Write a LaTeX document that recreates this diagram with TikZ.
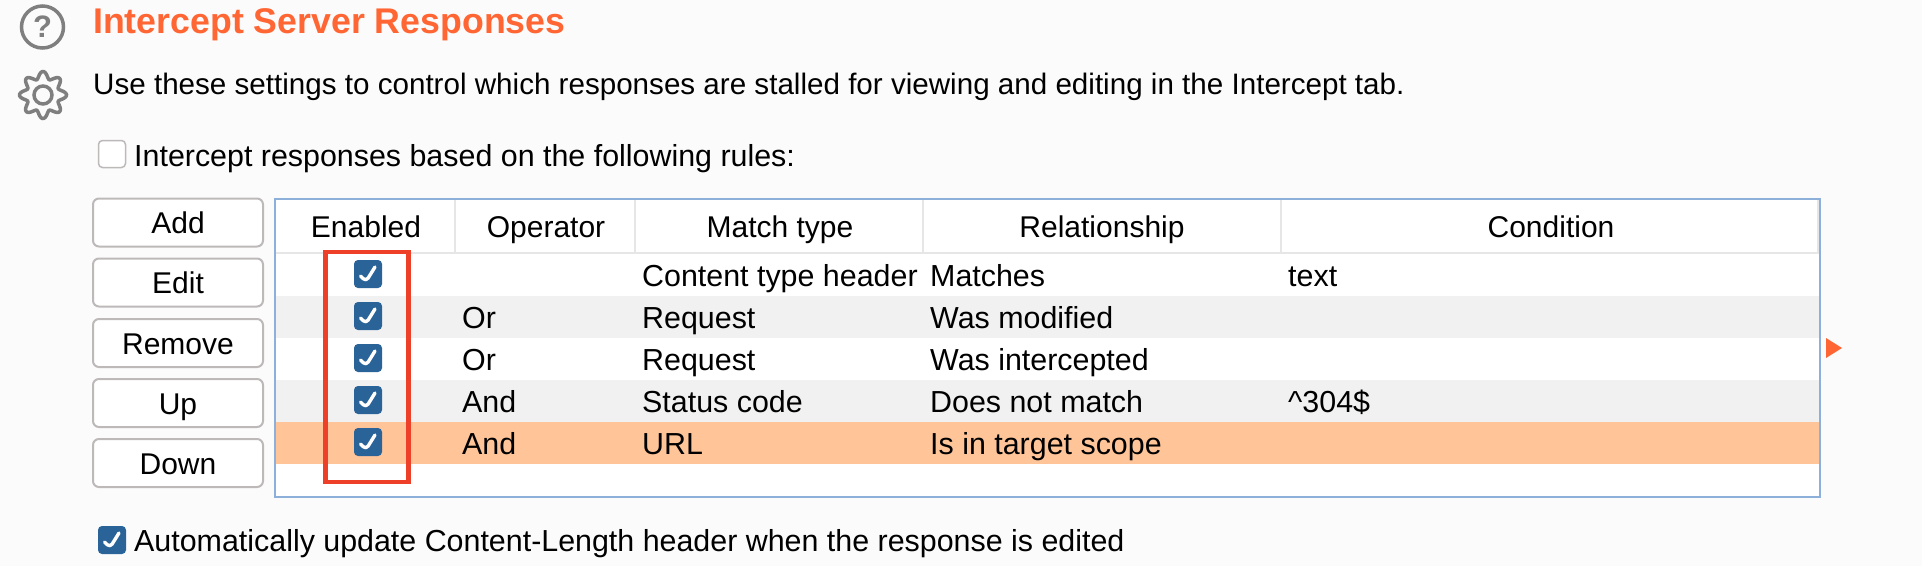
\documentclass[tikz,border=0pt]{standalone}
\usepackage{fontspec}
\setmainfont{Liberation Sans}
\definecolor{pagebg}{HTML}{FBFBFB}
\definecolor{burporange}{HTML}{FF6633}
\definecolor{rowgrey}{HTML}{F1F1F1}
\definecolor{rowsel}{HTML}{FFC599}
\definecolor{tableblue}{HTML}{8DB0DA}
\definecolor{headline}{HTML}{E6E6E6}
\definecolor{btnline}{HTML}{BDB9B9}
\definecolor{tickblue}{HTML}{2A6398}
\definecolor{iconline}{HTML}{7F7F7F}
\definecolor{markred}{HTML}{EE4028}
\tikzset{
  txt/.style={inner sep=0pt,anchor=base west,font=\fontsize{30.4}{36}\selectfont},
  head/.style={inner sep=0pt,anchor=base,font=\fontsize{30}{36}\selectfont},
  btn/.style={draw=btnline,line width=2pt,fill=white,rounded corners=6pt,minimum width=170pt,minimum height=48pt,inner sep=0pt,text height=22pt,text depth=0pt,font=\fontsize{30}{36}\selectfont},
  tickbox/.style={fill=tickblue,rounded corners=4pt,minimum size=28pt,inner sep=0pt,
    path picture={\draw[white,line width=3.4pt,line cap=round,line join=round] ([shift={(-7.5pt,-2pt)}]path picture bounding box.center) -- ([shift={(-2pt,-7.5pt)}]path picture bounding box.center) -- ([shift={(7pt,7pt)}]path picture bounding box.center);}},
  emptybox/.style={draw=btnline,line width=1.5pt,fill=white,rounded corners=4pt,minimum size=27pt,inner sep=0pt},
}
\begin{document}
\begin{tikzpicture}[x=1pt,y=-1pt]

    % Page
    \fill[pagebg] (0,0) rectangle (1922,566);
    \useasboundingbox (0,0) rectangle (1922,566);

    % Help and settings icons
    \node[shape=circle,draw=iconline,line width=3.5pt,minimum size=42pt,inner sep=0pt,text=iconline,font=\fontsize{31}{36}\selectfont\bfseries] (help) at (42.5,27) {?};
    \draw[iconline,line width=3.5pt] plot[domain=0:360,samples=160,smooth] ({43+(20+3.5*cos(8*\x))*cos(\x)},{95+(20+3.5*cos(8*\x))*sin(\x)}) -- cycle;
    \node[shape=circle,draw=iconline,line width=3.5pt,minimum size=18pt,inner sep=0pt] (gear) at (43,95) {};

    % Heading
    \node[txt,font=\fontsize{35.7}{42}\selectfont\bfseries,text=burporange] (title) at (93,33) {Intercept Server Responses};
    \node[txt,font=\fontsize{29.6}{36}\selectfont] (intro) at (93,94) {Use these settings to control which responses are stalled for viewing and editing in the Intercept tab.};
    \node[emptybox] (rulesbox) at (112,154) {};
    \node[txt] (ruleslabel) at (134,166) {Intercept responses based on the following rules:};

    % Buttons
    \node[btn] (add) at (178,222.5) {Add};
    \node[btn] (edit) at (178,282.5) {Edit};
    \node[btn] (remove) at (178,343) {Remove};
    \node[btn] (up) at (178,403) {Up};
    \node[btn] (down) at (178,463) {Down};

    % Table rows
    \fill[white] (274,198) rectangle (1821,497);
    \fill[rowgrey] (275,296) rectangle (1820,338);
    \fill[rowgrey] (275,380) rectangle (1820,422);
    \fill[rowsel] (275,422) rectangle (1820,464);

    % Table header lines
    \draw[headline,line width=2pt] (275,253) -- (1820,253);
    \draw[headline,line width=2pt] (455,199) -- (455,253);
    \draw[headline,line width=2pt] (635,199) -- (635,253);
    \draw[headline,line width=2pt] (923,199) -- (923,253);
    \draw[headline,line width=2pt] (1281,199) -- (1281,253);
    \draw[headline,line width=2pt] (1818,199) -- (1818,253);

    % Table border
    \draw[tableblue,line width=2pt] (275,199) rectangle (1820,497);

    % Header labels
    \node[head] (henabled) at (366,237) {Enabled};
    \node[head] (hoperator) at (546,237) {Operator};
    \node[head] (hmatch) at (780,237) {Match type};
    \node[head] (hrelation) at (1102,237) {Relationship};
    \node[head] (hcondition) at (1551,237) {Condition};

    % Rule rows
    \node[tickbox] (tick1) at (368,274) {};
    \node[tickbox] (tick2) at (368,316) {};
    \node[tickbox] (tick3) at (368,358) {};
    \node[tickbox] (tick4) at (368,400) {};
    \node[tickbox] (tick5) at (368,442) {};

    \node[txt] (op2) at (462,328) {Or};
    \node[txt] (op3) at (462,370) {Or};
    \node[txt] (op4) at (462,412) {And};
    \node[txt] (op5) at (462,454) {And};

    \node[txt] (match1) at (642,286) {Content type header};
    \node[txt] (match2) at (642,328) {Request};
    \node[txt] (match3) at (642,370) {Request};
    \node[txt] (match4) at (642,412) {Status code};
    \node[txt] (match5) at (642,454) {URL};

    \node[txt] (rel1) at (930,286) {Matches};
    \node[txt] (rel2) at (930,328) {Was modified};
    \node[txt] (rel3) at (930,370) {Was intercepted};
    \node[txt] (rel4) at (930,412) {Does not match};
    \node[txt] (rel5) at (930,454) {Is in target scope};

    \node[txt] (cond1) at (1288,286) {text};
    \node[txt] (cond4) at (1288,412) {\char`\^304\$};

    % Red frame over the Enabled column
    \draw[markred,line width=4.5pt] (325.5,252) rectangle (408.5,482);

    % Scroll marker
    \fill[burporange] (1826,338) -- (1842,348) -- (1826,358) -- cycle;

    % Bottom option
    \node[tickbox] (lengthbox) at (112,540) {};
    \node[txt] (lengthlabel) at (134,551) {Automatically update Content-Length header when the response is edited};

\end{tikzpicture}
\end{document}
